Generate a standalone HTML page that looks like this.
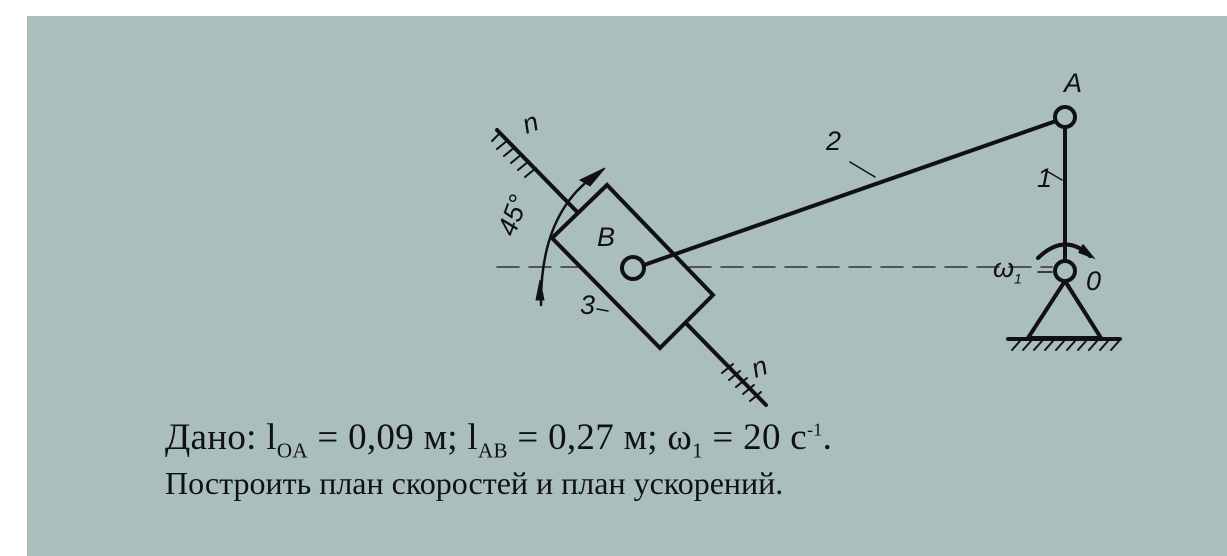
<!DOCTYPE html>
<html><head><meta charset="utf-8"><style>
html,body{margin:0;padding:0;background:#fff;}
#c{position:relative;width:1227px;height:556px;overflow:hidden;background:#fff;}
#bg{position:absolute;left:27px;top:16px;width:1200px;height:540px;background:#a9bebd;}
svg{position:absolute;left:0;top:0;}
.t{position:absolute;font-family:"Liberation Serif",serif;color:#111;white-space:nowrap;}
.l{font-family:"Liberation Sans",sans-serif;font-style:italic;font-size:27px;}
</style></head><body><div id="c"><div id="bg"></div>
<svg width="1227" height="556" viewBox="0 0 1227 556" fill="none" stroke="#111" stroke-width="4" stroke-linecap="round">
<line x1="497" y1="267" x2="1052" y2="267" stroke-width="1.5" stroke-dasharray="22,10" stroke="#333"/>
<line x1="497" y1="130" x2="766" y2="405"/>
<g stroke-width="2">
<line x1="492" y1="141" x2="500" y2="133"/><line x1="497" y1="149" x2="508" y2="140"/><line x1="504" y1="156" x2="515" y2="147"/><line x1="511" y1="163" x2="522" y2="154"/><line x1="518" y1="170" x2="529" y2="161"/><line x1="525" y1="177" x2="536" y2="168"/>
<line x1="722" y1="373" x2="733" y2="364"/><line x1="729" y1="380" x2="740" y2="371"/><line x1="736" y1="387" x2="747" y2="378"/><line x1="743" y1="394" x2="754" y2="385"/><line x1="750" y1="401" x2="761" y2="392"/>
</g>
<polygon points="607,185 552,238 660,348 713,295" fill="#a9bebd"/>
<line x1="644" y1="265" x2="1056" y2="121"/>
<circle cx="633" cy="268" r="11" fill="#a9bebd"/>
<line x1="1065" y1="127" x2="1065" y2="261"/>
<circle cx="1065" cy="117" r="10" fill="#a9bebd"/>
<polygon points="1065,281 1028,338 1101,338"/>
<circle cx="1065" cy="271" r="10" fill="#a9bebd"/>
<line x1="1008" y1="339" x2="1120" y2="339"/>
<g stroke-width="2"><line x1="1012" y1="350" x2="1020" y2="341"/><line x1="1023" y1="350" x2="1031" y2="341"/><line x1="1034" y1="350" x2="1042" y2="341"/><line x1="1045" y1="350" x2="1053" y2="341"/><line x1="1056" y1="350" x2="1064" y2="341"/><line x1="1067" y1="350" x2="1075" y2="341"/><line x1="1078" y1="350" x2="1086" y2="341"/><line x1="1089" y1="350" x2="1097" y2="341"/><line x1="1100" y1="350" x2="1108" y2="341"/><line x1="1111" y1="350" x2="1119" y2="341"/></g>
<path d="M1038,258 Q1065,232 1090,256" stroke-width="4"/>
<path d="M1083,246 L1091,256 L1080,252" stroke-width="3"/>
<path d="M600,172 Q540,210 541,305" stroke-width="2.5"/>
<path d="M605,168 L580,180 L590,186 Z" fill="#111" stroke-width="1"/>
<path d="M540,280 L544,300 L536,300 Z" fill="#111" stroke-width="1"/>
<line x1="1045" y1="170" x2="1062" y2="180" stroke-width="1.5"/>
<line x1="850" y1="162" x2="875" y2="177" stroke-width="1.5"/>
<line x1="597" y1="309" x2="608" y2="311" stroke-width="1.5"/>
<line x1="1038" y1="272" x2="1052" y2="272" stroke-width="1.5"/>
</svg>
<div class="t l" style="left:1064px;top:68px;">A</div>
<div class="t l" style="left:1037px;top:163px;">1</div>
<div class="t l" style="left:826px;top:126px;">2</div>
<div class="t l" style="left:597px;top:222px;">B</div>
<div class="t l" style="left:580px;top:290px;">3</div>
<div class="t l" style="left:993px;top:253px;">ω<sub style="font-size:14px">1</sub></div>
<div class="t l" style="left:1086px;top:266px;">0</div>
<div class="t l" style="left:523px;top:108px;transform:rotate(-20deg)">n</div>
<div class="t l" style="left:752px;top:352px;transform:rotate(-20deg)">n</div>
<div class="t l" style="left:493px;top:200px;transform:rotate(-70deg)">45°</div>
<div class="t" style="left:165px;top:416px;font-size:37px;letter-spacing:0.3px;">Дано: l<sub style="font-size:21px">OA</sub> = 0,09 м; l<sub style="font-size:21px">AB</sub> = 0,27 м; ω<sub style="font-size:21px">1</sub> = 20 с<sup style="font-size:18px">-1</sup>.</div>
<div class="t" style="left:165px;top:465px;font-size:32px;">Построить план скоростей и план ускорений.</div>
</div></body></html>
